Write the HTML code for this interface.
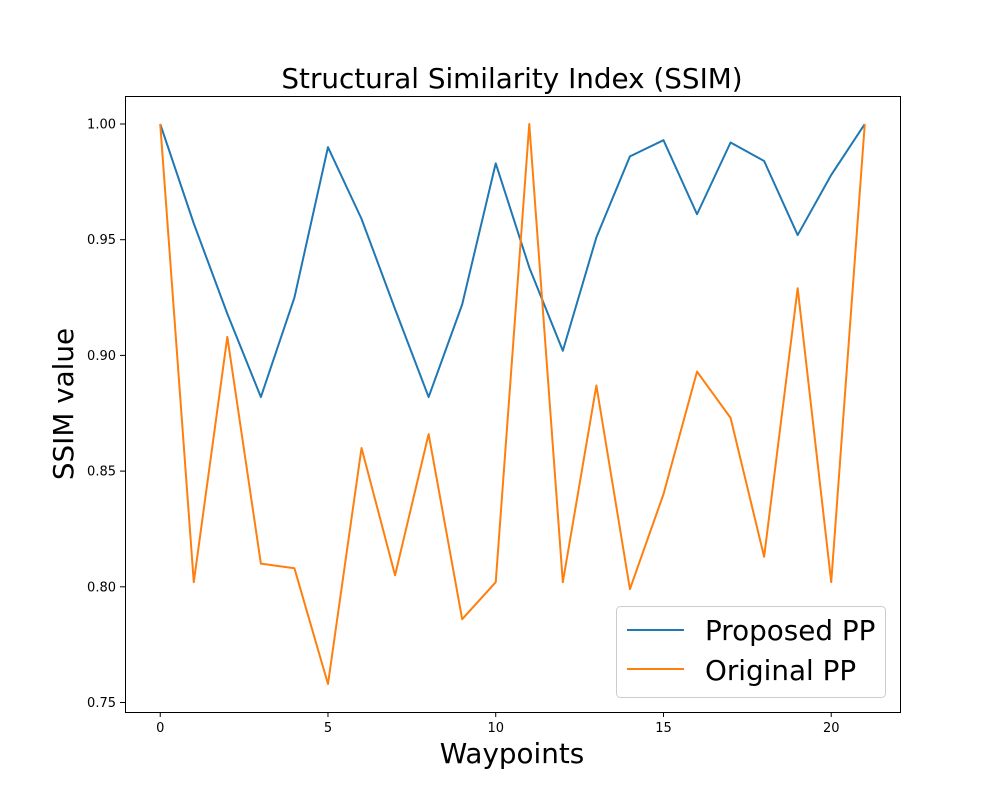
<!DOCTYPE html>
<html><head><meta charset="utf-8"><style>
body{margin:0;background:#fff}
svg{display:block;font-family:"DejaVu Sans","Liberation Sans",sans-serif}
</style></head><body>
<svg id="chart" width="1000" height="800">
<rect width="1000" height="800" fill="#fff"/>
<text x="512" y="88" text-anchor="middle" font-size="27.8">Structural Similarity Index (SSIM)</text>
<text x="512" y="763" text-anchor="middle" font-size="27.8">Waypoints</text>
<text transform="translate(73,404) rotate(-90)" text-anchor="middle" font-size="27.8">SSIM value</text>
<g id="ticks"></g>
<g id="lines"></g>
<rect x="125.5" y="96.5" width="775" height="616" fill="none" stroke="#000" stroke-width="1"/>
<g>
<rect x="616.5" y="606.5" width="269" height="91" rx="4" fill="#fff" fill-opacity="0.8" stroke="#ccc"/>
<line x1="627" y1="630" x2="684" y2="630" stroke="#1f77b4" stroke-width="2"/>
<text x="705" y="640" font-size="27.8">Proposed PP</text>
<line x1="627" y1="669" x2="684" y2="669" stroke="#ff7f0e" stroke-width="2"/>
<text x="705" y="680" font-size="27.8">Original PP</text>
</g>
</svg>
<script>
const waypoints=[0,1,2,3,4,5,6,7,8,9,10,11,12,13,14,15,16,17,18,19,20,21];
const proposed=[1.0,0.957,0.918,0.882,0.925,0.990,0.959,0.920,0.882,0.922,0.983,0.938,0.902,0.951,0.986,0.993,0.961,0.992,0.984,0.952,0.978,1.0];
const original=[1.0,0.802,0.908,0.810,0.808,0.758,0.860,0.805,0.866,0.786,0.802,1.0,0.802,0.887,0.799,0.840,0.893,0.873,0.813,0.929,0.802,1.0];
const xTicks=[0,5,10,15,20];
const yTicks=[0.75,0.80,0.85,0.90,0.95,1.00];
const NS="http://www.w3.org/2000/svg";
const L=125,R=900,T=96,B=712;
const all=proposed.concat(original);
const mn=Math.min(...all),mx=Math.max(...all),pad=(mx-mn)*0.05;
const y0=mn-pad,y1=mx+pad;
const xmn=Math.min(...waypoints),xmx=Math.max(...waypoints),xp=(xmx-xmn)*0.05;
const X=v=>L+(v-(xmn-xp))/((xmx+xp)-(xmn-xp))*(R-L);
const Y=v=>B-(v-y0)/(y1-y0)*(B-T);
const tg=document.getElementById('ticks');
function mk(tag,at){const e=document.createElementNS(NS,tag);for(const k in at)e.setAttribute(k,at[k]);return e;}
xTicks.forEach(t=>{
 const l=mk('line',{x1:X(t),x2:X(t),y1:B,y2:B+5,stroke:'#000'});
 
 
 tg.appendChild(l);
 const s=mk('text',{x:X(t),y:B+20,'text-anchor':'middle','font-size':'13'});
 
 
 s.textContent=t;tg.appendChild(s);
});
yTicks.forEach(t=>{
 const l=mk('line',{x1:L-5,x2:L,y1:Y(t),y2:Y(t),stroke:'#000'});
 
 
 tg.appendChild(l);
 const s=mk('text',{x:L-9,y:Y(t)+4.5,'text-anchor':'end','font-size':'13'});
 
 
 s.textContent=t.toFixed(2);tg.appendChild(s);
});
const lg=document.getElementById('lines');
[[proposed,'#1f77b4','proposed-line'],[original,'#ff7f0e','original-line']].forEach(([d,c,n])=>{
 const p=mk('polyline',{points:d.map((v,i)=>X(waypoints[i])+','+Y(v)).join(' '),fill:'none',stroke:c,'stroke-width':2,'stroke-linejoin':'round'});
 
 
 lg.appendChild(p);
});
</script>
</body></html>
